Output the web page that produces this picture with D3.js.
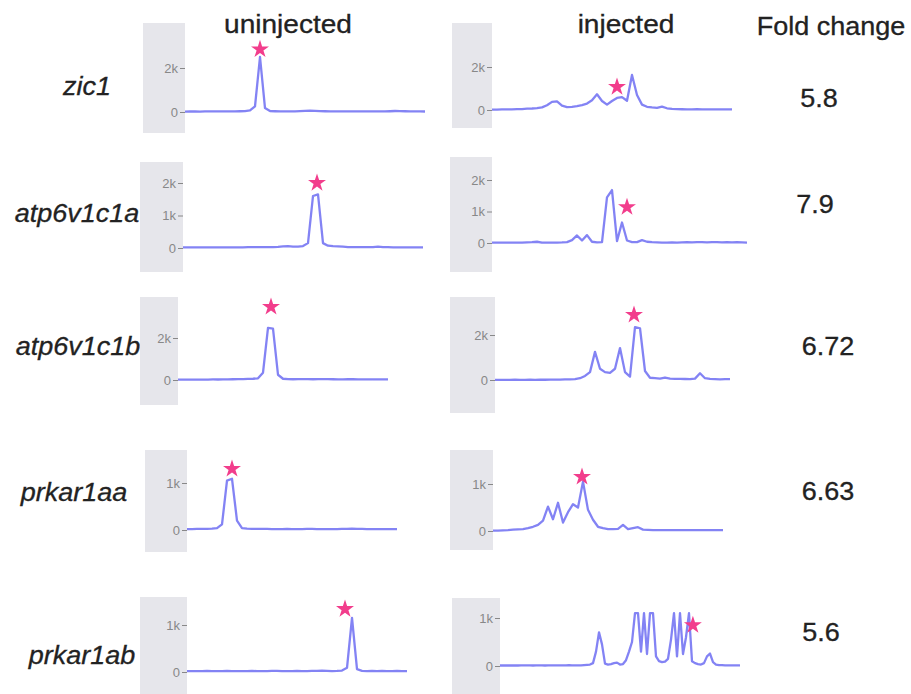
<!DOCTYPE html>
<html>
<head>
<meta charset="utf-8">
<script src="https://cdn.jsdelivr.net/npm/d3@7"></script>
<style>
  body { margin: 0; background: #fff; }
  text { font-family: "Liberation Sans", Arial, sans-serif; }
</style>
</head>
<body>
<div id="fig"></div>
<script>
// gene rows, column headers, fold change column
var genes = ["zic1", "atp6v1c1a", "atp6v1c1b", "prkar1aa", "prkar1ab"];
var conditions = ["uninjected", "injected"];
var foldChange = ["5.8", "7.9", "6.72", "6.63", "5.6"];
var tickValues = [[0, 2000], [0, 1000, 2000], [0, 2000], [0, 1000], [0, 1000]];

// traces (counts)
var zic1Un = [20,22,25,20,25,28,25,30,28,30, 32,35,40,70,260,2500,180,45,35,30, 30,28,30,40,55,60,50,40,35,30,
  28,30,30,28,30,28,30,32,30,28, 30,35,45,40,35,30,28,25,22];
var zic1Inj = [20,20,30,25,30,40,40,60,70,90, 120,220,380,400,200,130,150,180,230,300, 450,730,420,250,420,560,600,430,1630,700,
  250,150,120,100,160,80,50,40,35,30, 30,35,30,25,30,28,25,30,28];
var atpAUn = [20,20,20,20,22,20,20,22,20,20, 22,20,22,25,25,25,28,30,30,35, 50,55,45,40,60,150,1600,1650,150,70,
  55,50,40,30,28,25,25,25,28,40, 30,25,22,22,22,20,20,20,20];
var atpAInj = [10,12,15,12,15,15,15,20,25,40, 15,12,15,15,20,30,90,240,80,250, 40,20,25,1450,1680,60,650,80,30,30,
  90,40,25,20,15,15,20,15,20,25, 20,25,30,20,25,30,20,25,20,25, 20,15];
var atpBUn = [20,20,20,20,22,20,22,25,25,30, 30,35,40,45,50,60,80,350,2480,2450, 250,60,40,35,40,45,40,35,40,45,
  40,35,30,30,35,40,30,30,28,25, 30,28,25];
var atpBInj = [10,10,10,10,12,10,10,12,10,12, 12,15,15,20,25,30,40,80,180,350, 1250,500,350,320,500,1420,350,150,2350,2300,
  400,100,80,60,110,60,50,50,45,40, 60,300,80,50,40,30,40,35];
var prkAUn = [20,20,22,25,25,30,40,120,1050,1090, 200,40,30,25,25,22,22,20,20,20, 22,20,20,20,22,22,20,20,20,20,
  20,22,25,28,25,22,20,20,20,20, 20,20,20];
var prkAInj = [10,10,15,20,30,35,40,60,90,130, 220,520,250,600,180,400,570,500,1050,450, 240,90,60,40,40,45,130,40,60,80,
  30,25,20,20,20,20,20,20,20,20, 20,20,20,20,20,20,20];
var prkBUn = [20,20,18,20,22,20,18,20,22,20, 18,20,20,22,20,18,20,22,25,20, 18,20,22,20,20,22,25,30,25,20,
  22,30,90,1150,60,25,20,22,20,22, 20,20,22,20,20];
var prkBInj = [10,10,12,10,10,12,10,12,15,12, 12,10,12,15,12,10,12,15,12,12, 15,12,15,18,15,12,15,15,20,25,
  30,60,300,700,450,50,30,40,60,70, 30,40,120,300,500,1100,1100,300,1100,250, 1100,1100,200,100,80,90,150,550,1100,200,
  1100,250,600,1100,100,60,40,30,60,200, 260,80,30,20,20,15,15,12,15,12,15];

var traces = [[zic1Un, zic1Inj], [atpAUn, atpAInj], [atpBUn, atpBInj], [prkAUn, prkAInj], [prkBUn, prkBInj]];

// star markers: position in sample index and value
var starIdx = [[15, 25], [26.8, 27], [18.6, 27.8], [9, 17.8], [31.6, 64.3]];
var starVal = [[2850, 1070], [2000, 1140], [3480, 2890], [1300, 1150], [1340, 850]];

// panel layout: grey band x, y, w, h, zero line y, px per 1k, line end x
var panels = [
  [[143, 23, 42, 110, 112, 22, 425], [452, 23, 40, 105, 110, 21.5, 732]],
  [[140, 162, 43, 110, 248, 32.5, 423], [450, 157, 42, 115, 243, 31.5, 747]],
  [[140, 297, 38, 108, 380, 21, 388], [450, 297, 45, 116, 380, 22.5, 730]],
  [[145, 450, 42, 102, 530, 47, 397], [450, 450, 43, 100, 531, 47, 723]],
  [[140, 597, 47, 97, 672, 47, 407], [452, 598, 48, 96, 666, 48, 740]]
];
var headerPos = [[288, 33], [626, 33]];
var labelPos = [[87, 95], [77, 222], [78, 355], [74, 501], [82, 664]];
var foldPos = [[819, 107], [815, 213], [828, 355], [828, 500], [821, 641]];

var svg = d3.select("#fig").append("svg")
    .attr("width", 911)
    .attr("height", 694)
    .style("background", "#fff");

function addText(x, y, str, size, italic) {
  return svg.append("text")
    .attr("transform", "translate(" + x + "," + y + ") scale(1.08,1)")
    .attr("text-anchor", "middle")
    .attr("font-size", size)
    .attr("font-style", italic ? "italic" : "normal")
    .attr("fill", "#222")
    .attr("stroke", "#222")
    .attr("stroke-width", 0.3)
    .text(str);
}

conditions.forEach(function(c, j) { addText(headerPos[j][0], headerPos[j][1], c, 26); });
addText(831, 35, "Fold change", 25);

genes.forEach(function(g, r) {
  addText(labelPos[r][0], labelPos[r][1], g, 25, true);
  addText(foldPos[r][0], foldPos[r][1], foldChange[r], 25);

  traces[r].forEach(function(values, j) {
    var p = panels[r][j];
    var bx = p[0], by = p[1], bw = p[2], bh = p[3], zeroY = p[4], kPx = p[5], xEnd = p[6];

    svg.append("rect")
      .attr("x", bx).attr("y", by)
      .attr("width", bw).attr("height", bh)
      .attr("fill", "#e6e6eb");

    var x = d3.scaleLinear()
      .domain([0, values.length - 1])
      .range([bx + bw, xEnd]);
    var y = d3.scaleLinear()
      .domain([0, 1000])
      .range([zeroY, zeroY - kPx]);

    var ax = svg.append("g")
      .attr("transform", "translate(" + (bx + bw) + ",0)")
      .call(d3.axisLeft(y).tickValues(tickValues[r]).tickFormat(d3.format("~s")).tickSize(5).tickPadding(2));
    ax.select(".domain").remove();
    ax.selectAll("line").attr("stroke", "#888");
    ax.selectAll("text")
      .attr("fill", "#888")
      .attr("font-size", 13)
      .style("font-family", "'Liberation Sans', Arial, sans-serif");

    svg.append("path")
      .datum(values)
      .attr("fill", "none")
      .attr("stroke", "#5a5af0")
      .attr("stroke-opacity", 0.75)
      .attr("stroke-width", 2.3)
      .attr("stroke-linejoin", "round")
      .attr("d", d3.line()
        .x(function(d, i) { return x(i); })
        .y(function(d) { return y(d); }));

    svg.append("path")
      .attr("d", d3.symbol().type(d3.symbolStar).size(100)())
      .attr("transform", "translate(" + x(starIdx[r][j]) + "," + y(starVal[r][j]) + ")")
      .attr("fill", "#f23d8c");
  });
});
</script>
</body>
</html>
